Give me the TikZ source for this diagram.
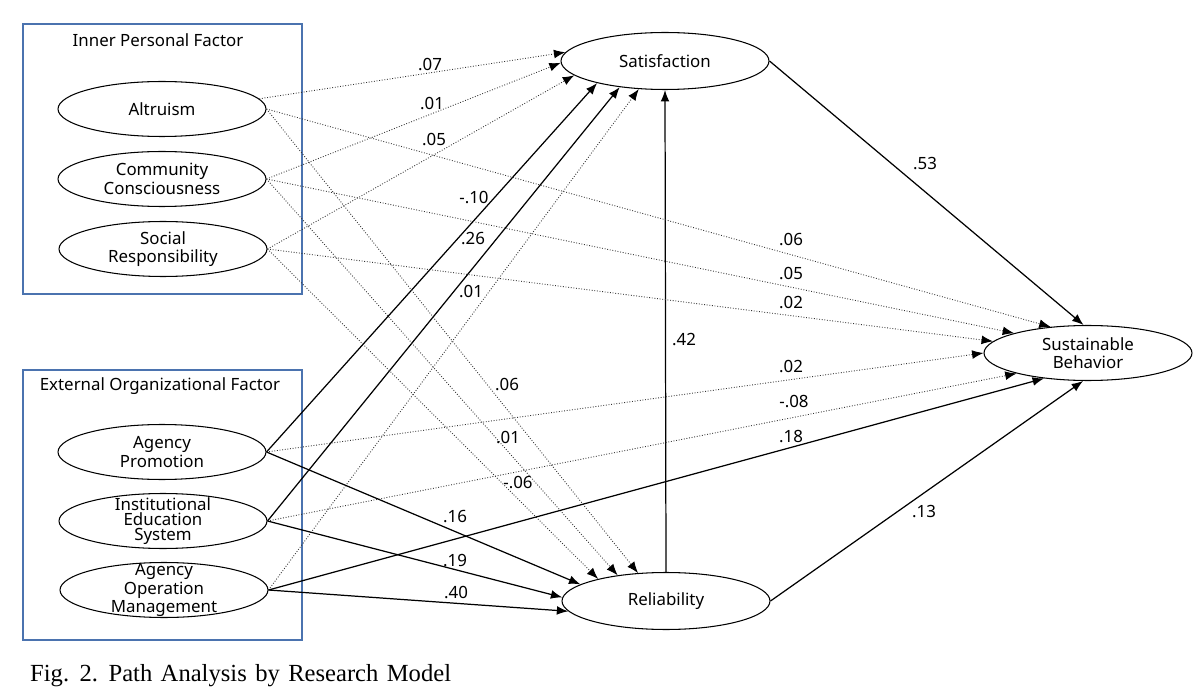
\documentclass[tikz,border=0pt]{standalone}
\usepackage{fontspec}
\setmainfont{Noto Sans}
\newfontfamily\capfont{Liberation Serif}
\usepackage{xcolor}
\usepackage{tikz}
\usetikzlibrary{shapes.geometric,arrows.meta,positioning}
\definecolor{boxblue}{RGB}{75,115,175}

\begin{document}
\begin{tikzpicture}[
    x=0.02cm, y=-0.02cm,
    every node/.style={font=\fontsize{9.6}{10.4}\selectfont},
    factor/.style={ellipse, draw, line width=0.6pt, minimum width=4.16cm, minimum height=1.1cm, inner sep=0pt, align=center},
    tight/.style={inner ysep=-4pt, font=\fontsize{9.6}{8.7}\selectfont},
    group/.style={rectangle, draw=boxblue, line width=0.7pt, minimum width=5.58cm, minimum height=5.4cm},
    solidarrow/.style={->, >={Latex[length=6.5pt,width=5pt]}, line width=0.7pt},
    dotarrow/.style={->, >={Latex[length=6.5pt,width=5pt,color=black]}, densely dotted, line width=0.5pt, black!80},
    weight/.style={inner sep=1pt}
]
\useasboundingbox (0,0) rectangle (1204,699);

% factor groups
\node[group] (inner) at (162.5,159) {};
\node[group] (outer) at (162.5,505) {};
\node (innertitle) at (158,40) {Inner Personal Factor};
\node (outertitle) at (160,386) {External Organizational Factor};

% variables
\node[factor] (alt) at (162,109) {Altruism};
\node[factor] (com) at (162,179) {Community\\Consciousness};
\node[factor] (soc) at (163,249) {Social\\Responsibility};
\node[factor] (ap) at (162,452) {Agency\\Promotion};
\node[factor, tight] (ies) at (163,521) {Institutional\\Education\\System};
\node[factor, tight] (aom) at (164,590) {Agency\\Operation\\Management};
\node[factor, minimum height=1.14cm] (sat) at (665,61) {Satisfaction};
\node[factor, minimum height=1.14cm] (rel) at (666,601) {Reliability};
\node[factor] (sb) at (1088,353) {Sustainable\\Behavior};

% paths into satisfaction
\draw[dotarrow] (alt.6) -- (sat.175);
\draw[dotarrow] (com.east) -- (sat.181);
\draw[dotarrow] (soc.east) -- (sat.189);
\draw[solidarrow] (ap.east) -- (sat.198);
\draw[solidarrow] (ies.east) -- (sat.210);
\draw[dotarrow] (aom.east) -- (sat.227);
\draw[solidarrow] (rel.north) -- (sat.south);

% paths into reliability
\draw[dotarrow] (alt.east) -- (rel.135);
\draw[dotarrow] (com.east) -- (rel.152);
\draw[dotarrow] (soc.east) -- (rel.162);
\draw[solidarrow] (ap.east) -- (rel.169);
\draw[solidarrow] (ies.east) -- (rel.178);
\draw[solidarrow] (aom.east) -- (rel.186);

% paths into sustainable behavior
\draw[dotarrow] (alt.east) -- (sb.145);
\draw[dotarrow] (com.east) -- (sb.165);
\draw[dotarrow] (soc.east) -- (sb.173);
\draw[dotarrow] (ap.east) -- (sb.180);
\draw[dotarrow] (ies.east) -- (sb.196);
\draw[solidarrow] (aom.east) -- (sb.210);
\draw[solidarrow] (sat.east) -- (sb.99);
\draw[solidarrow] (rel.east) -- (sb.260);

% coefficients
\node[weight] (altsat) at (430,65) {.07};
\node[weight] (comsat) at (432,104) {.01};
\node[weight] (socsat) at (434,140) {.05};
\node[weight] (apsat) at (474,198) {-.10};
\node[weight] (iessat) at (473,239) {.26};
\node[weight] (aomsat) at (471,292) {.01};
\node[weight] (altrel) at (507,385) {.06};
\node[weight] (comrel) at (508,438) {.01};
\node[weight] (socrel) at (518,483) {-.06};
\node[weight] (aprel) at (455,517) {.16};
\node[weight] (iesrel) at (455,561) {.19};
\node[weight] (aomrel) at (456,593) {.40};
\node[weight] (relsat) at (684,340) {.42};
\node[weight] (satsb) at (925,164) {.53};
\node[weight] (altsb) at (791,240) {.06};
\node[weight] (comsb) at (791,274) {.05};
\node[weight] (socsb) at (791,303) {.02};
\node[weight] (apsb) at (791,367) {.02};
\node[weight] (iessb) at (794,402) {-.08};
\node[weight] (aomsb) at (791,437) {.18};
\node[weight] (relsb) at (924,512) {.13};

\node[anchor=west, font=\capfont\fontsize{14}{16}\selectfont] (caption) at (24,676) {\spaceskip=4.8pt\relax Fig. 2. Path Analysis by Research Model};

\end{tikzpicture}
\end{document}
